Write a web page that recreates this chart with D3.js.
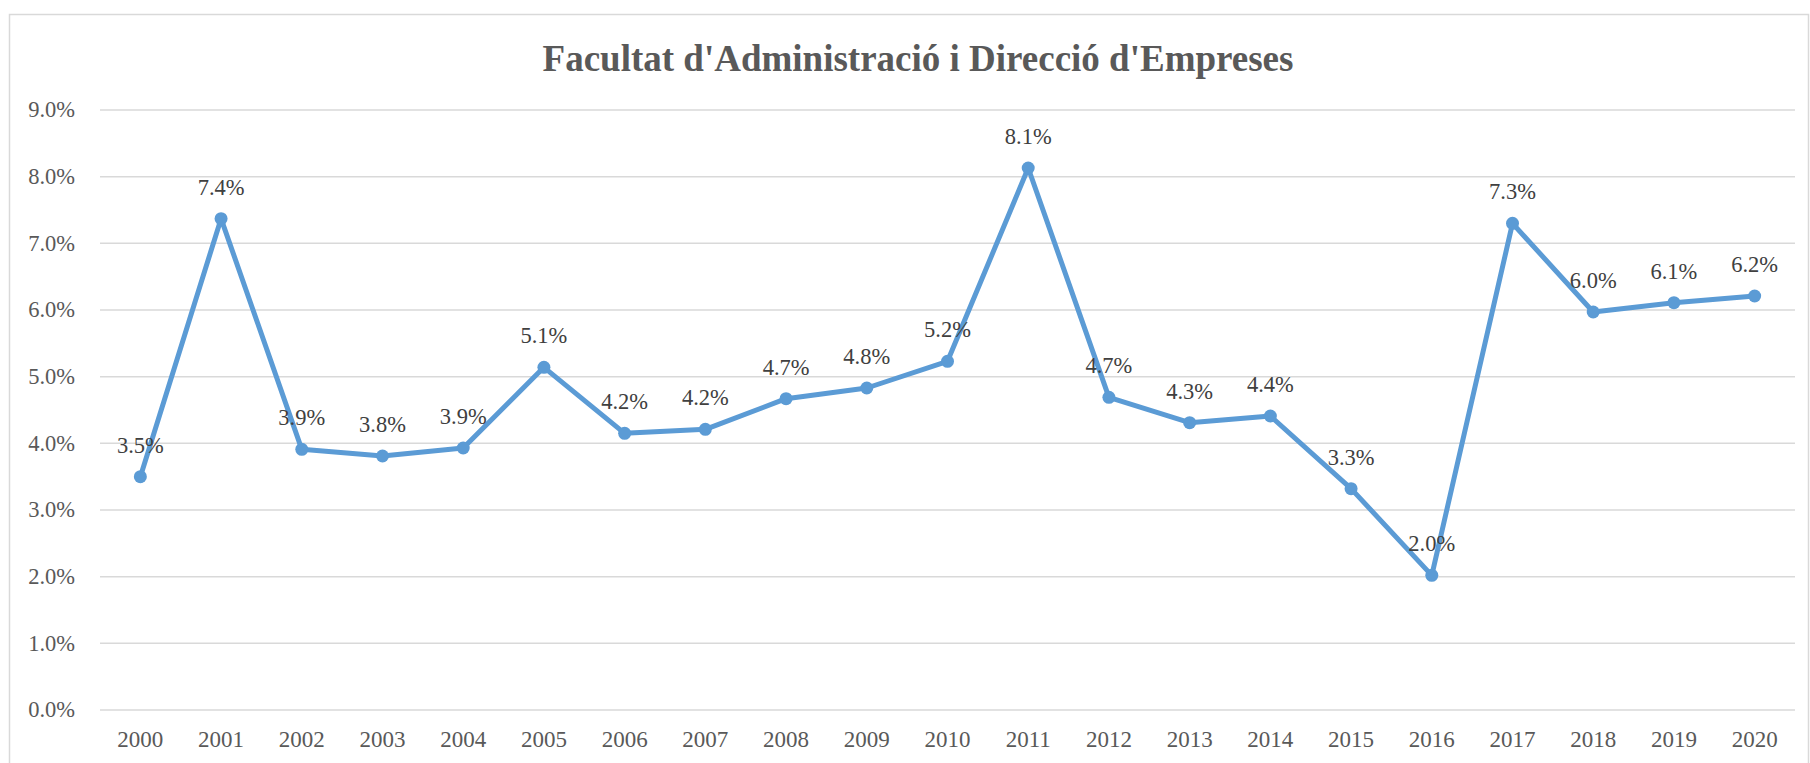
<!DOCTYPE html>
<html lang="en">
<head>
<meta charset="utf-8">
<script src="https://d3js.org/d3.v7.min.js"></script>
<style type="text/css">
body {
	margin: 0;
	background: #fff;
	font-family: "Liberation Serif", "Times New Roman", serif;
}
</style>
</head>
<body>
<script type="text/javascript">

// chart data
const years = ["2000", "2001", "2002", "2003", "2004", "2005", "2006", "2007", "2008", "2009", "2010",
               "2011", "2012", "2013", "2014", "2015", "2016", "2017", "2018", "2019", "2020"];
const rates = [3.50, 7.37, 3.91, 3.81, 3.93, 5.14, 4.15, 4.21, 4.67, 4.83, 5.23,
               8.13, 4.69, 4.31, 4.41, 3.32, 2.02, 7.30, 5.97, 6.11, 6.21];
const yTicks = [0, 1, 2, 3, 4, 5, 6, 7, 8, 9];
const title = "Facultat d'Administració i Direcció d'Empreses";

const width = 1810;
const height = 763;
const margin = {top: 110, right: 15, bottom: 53, left: 100};

const svg = d3.select("body")
	.append("svg")
	.attr("width", width)
	.attr("height", height);

// outer chart border
svg.append("rect")
	.attr("x", 9.5)
	.attr("y", 14.5)
	.attr("width", width - 11)
	.attr("height", height)
	.style("fill", "none")
	.style("stroke", "#d9d9d9")
	.style("stroke-width", 1.5);

const x = d3.scalePoint()
	.domain(years)
	.range([margin.left, width - margin.right])
	.padding(0.5);

const y = d3.scaleLinear()
	.domain([0, 9])
	.range([height - margin.bottom, margin.top]);

// horizontal gridlines
svg.append("g")
	.selectAll("line")
	.data(yTicks)
	.enter()
	.append("line")
	.attr("x1", margin.left)
	.attr("x2", width - margin.right)
	.attr("y1", d => y(d))
	.attr("y2", d => y(d))
	.style("stroke", "#d9d9d9")
	.style("stroke-width", 1.5);

// y labels
svg.append("g")
	.selectAll("text")
	.data(yTicks)
	.enter()
	.append("text")
	.attr("x", 75)
	.attr("y", d => y(d))
	.attr("dy", "0.33em")
	.attr("text-anchor", "end")
	.style("font-size", "22.5px")
	.style("fill", "#595959")
	.text(d => d.toFixed(1) + "%");

// x labels
svg.append("g")
	.selectAll("text")
	.data(years)
	.enter()
	.append("text")
	.attr("x", d => x(d))
	.attr("y", 747)
	.attr("text-anchor", "middle")
	.style("font-size", "23px")
	.style("fill", "#595959")
	.text(d => d);

// title
svg.append("text")
	.attr("x", 918)
	.attr("y", 71)
	.attr("text-anchor", "middle")
	.style("font-size", "37px")
	.style("font-weight", "bold")
	.style("fill", "#595959")
	.text(title);

const line = d3.line()
	.x((d, i) => x(years[i]))
	.y(d => y(d));

svg.append("path")
	.datum(rates)
	.attr("d", line)
	.style("fill", "none")
	.style("stroke", "#5b9bd5")
	.style("stroke-width", 5)
	.style("stroke-linejoin", "round");

svg.append("g")
	.selectAll("circle")
	.data(rates)
	.enter()
	.append("circle")
	.attr("cx", (d, i) => x(years[i]))
	.attr("cy", d => y(d))
	.attr("r", 6.5)
	.style("fill", "#5b9bd5");

// data labels
svg.append("g")
	.selectAll("text")
	.data(rates)
	.enter()
	.append("text")
	.attr("x", (d, i) => x(years[i]))
	.attr("y", d => y(d) - 24)
	.attr("text-anchor", "middle")
	.style("font-size", "22.5px")
	.style("fill", "#404040")
	.text(d => d.toFixed(1) + "%");

</script>
</body>
</html>
